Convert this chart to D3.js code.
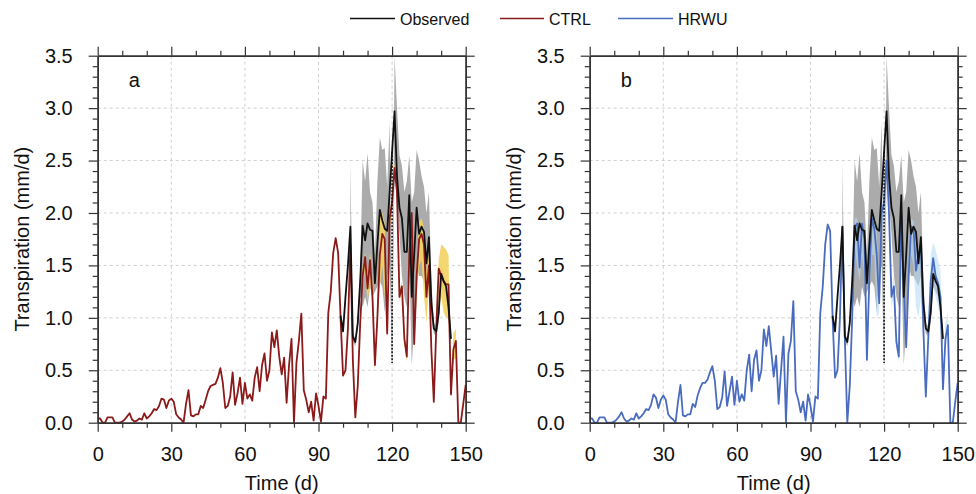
<!DOCTYPE html>
<html>
<head>
<meta charset="utf-8">
<script src="https://cdn.jsdelivr.net/npm/d3@7"></script>
<style>
  body { margin: 0; background: #fff; }
  svg { display: block; font-family: "Liberation Sans", Arial, Helvetica, sans-serif; }
</style>
</head>
<body>
<div id="chart"></div>
<script>
// daily transpiration (mm/d), day 0..150
const ctrl = [
  0.04,0.04,0.0,0.0,0.05,0.05,0.05,0.0,0.0,0.0,
  0.01,0.03,0.06,0.09,0.03,0.01,0.02,0.04,0.03,0.09,
  0.04,0.06,0.09,0.13,0.12,0.16,0.23,0.22,0.14,0.21,
  0.23,0.2,0.08,0.05,0.03,0.0,0.18,0.31,0.07,0.06,
  0.08,0.08,0.16,0.14,0.22,0.3,0.35,0.36,0.37,0.43,
  0.52,0.38,0.14,0.16,0.25,0.48,0.17,0.28,0.43,0.18,
  0.38,0.23,0.27,0.21,0.43,0.53,0.3,0.55,0.66,0.4,
  0.5,0.86,0.72,0.88,0.63,0.46,0.62,0.19,0.55,0.8,
  0.0,0.57,0.78,1.04,0.31,0.22,0.1,0.2,0.02,0.28,
  0.16,0.01,0.25,0.23,1.05,1.25,1.62,1.76,1.62,1.0,
  0.45,0.5,0.9,1.7,0.6,0.05,0.35,0.95,1.4,1.58,
  1.28,1.55,1.2,0.55,1.0,1.6,1.8,1.75,0.85,1.95,
  2.1,2.43,2.2,1.2,1.3,0.8,0.63,1.6,2.0,0.75,
  1.4,1.75,1.8,1.7,1.2,1.5,0.7,0.2,0.9,1.47,
  1.4,1.35,1.32,1.32,0.27,0.7,0.78,0.0,0.0,0.18,0.36
]
const hrwu = [
  0.04,0.04,0.0,0.0,0.05,0.05,0.05,0.0,0.0,0.0,
  0.01,0.03,0.06,0.1,0.04,0.01,0.02,0.04,0.03,0.09,
  0.04,0.06,0.09,0.13,0.12,0.17,0.27,0.24,0.14,0.22,
  0.26,0.22,0.08,0.05,0.03,0.0,0.2,0.36,0.07,0.06,
  0.08,0.08,0.18,0.15,0.26,0.33,0.38,0.38,0.41,0.48,
  0.54,0.4,0.13,0.15,0.24,0.49,0.16,0.3,0.44,0.17,
  0.4,0.2,0.27,0.21,0.5,0.65,0.3,0.6,0.69,0.4,
  0.5,0.89,0.73,0.92,0.68,0.44,0.64,0.18,0.5,0.82,
  0.0,0.66,0.78,1.16,0.3,0.22,0.1,0.2,0.02,0.27,
  0.16,0.01,0.25,0.23,1.05,1.3,1.7,1.89,1.83,1.0,
  0.43,0.5,1.0,1.87,0.8,0.0,0.35,1.0,1.87,1.9,
  1.48,1.9,1.75,0.6,1.4,1.95,1.85,1.6,1.14,2.0,
  2.1,2.5,2.0,1.2,1.3,0.77,0.63,2.0,1.3,0.72,
  1.4,1.87,1.85,1.45,1.6,1.7,0.9,0.25,0.8,1.35,
  1.57,1.4,1.33,1.2,0.32,0.8,0.93,0.0,0.0,0.2,0.38
]

// observed mean, day 99..144 (day 120 is the odd low reading, drawn as a dotted drop)
const obsStart = 99
const obsOddDay = 120
const observed = [
  1.02,0.87,1.2,1.5,1.87,0.82,0.77,0.95,1.35,1.88,
  1.74,1.9,1.84,1.83,1.33,1.7,2.03,1.93,1.85,1.83,
  2.2,0.57,2.97,2.35,2.05,1.95,1.63,1.63,2.17,1.2,
  1.6,2.05,1.8,1.87,1.82,1.52,1.77,1.15,0.9,0.87,
  1.05,1.42,1.35,1.3,1.1,0.8
]

// observed spread, day 103..144
const obsBandStart = 103
const obsLo = [
  1.5,0.78,0.73,0.9,1.2,1.1,1.2,1.1,1.3,1.2,
  1.25,1.3,1.35,1.3,1.05,1.4,1.5,0.55,2.4,2.1,
  1.8,1.4,1.2,1.1,1.6,0.55,0.9,1.5,1.4,1.4,
  1.35,1.3,1.4,1.0,0.85,0.83,0.95,1.3,1.25,1.2,
  1.0,0.75
]
const obsHi = [
  2.5,0.86,0.8,1.0,1.45,2.5,2.3,2.57,2.2,2.1,
  1.6,2.3,2.72,2.6,2.62,2.25,2.87,0.6,3.5,3.0,
  2.55,2.45,2.2,2.3,2.55,2.1,2.2,2.6,2.5,2.35,
  2.25,2.0,2.2,1.35,0.95,0.92,1.15,1.5,1.42,1.35,
  1.15,0.85
]

// CTRL spread, day 108..146
const ctrlBandStart = 108
const ctrlLo = [
  1.3,1.45,1.15,1.35,1.1,0.5,0.95,1.3,1.5,1.2,
  0.8,1.85,2.05,2.38,2.15,1.15,1.25,0.75,0.58,1.55,
  1.9,0.7,1.2,1.5,1.55,1.2,0.95,1.3,0.65,0.17,
  0.85,1.1,1.2,1.05,1.0,1.0,0.25,0.6,0.62
]
const ctrlHi = [
  1.5,1.62,1.4,1.62,1.35,0.62,1.1,1.95,2.0,1.9,
  0.9,2.0,2.15,2.48,2.25,1.25,1.35,0.85,0.68,1.65,
  2.05,0.8,1.5,1.92,1.95,1.85,1.45,1.6,0.75,0.23,
  0.95,1.55,1.7,1.68,1.65,1.6,0.3,0.85,0.9
]

// HRWU spread, day 103..146
const hrwuBandStart = 103
const hrwuLo = [
  1.7,0.75,0.0,0.3,0.95,1.7,1.5,1.35,1.6,1.4,
  0.55,1.2,1.6,1.6,1.0,1.05,1.85,1.95,2.4,1.8,
  1.1,1.2,0.7,0.58,1.85,1.0,0.68,1.2,1.6,1.5,
  1.1,1.0,1.2,0.75,0.22,0.75,1.2,1.3,1.2,1.1,
  1.0,0.3,0.7,0.85
]
const hrwuHi = [
  1.95,0.85,0.05,0.4,1.05,1.95,1.95,1.8,1.95,1.8,
  0.65,1.5,2.0,1.95,1.8,1.3,2.05,2.2,2.55,2.05,
  1.3,1.4,0.85,0.7,2.05,1.5,0.8,1.7,1.95,1.92,
  1.7,1.65,1.75,0.95,0.3,0.9,1.6,1.72,1.65,1.55,
  1.45,0.4,0.95,1.05
]

const xTicks = [0, 30, 60, 90, 120, 150]
const yTicks = [0, 0.5, 1.0, 1.5, 2.0, 2.5, 3.0, 3.5]
const legendItems = [
  {name: 'Observed', color: '#111111'},
  {name: 'CTRL', color: '#8b1a1a'},
  {name: 'HRWU', color: '#4a6cbf'}
]

const W = 976, H = 494
const plotW = 368, plotH = 367, plotTop = 55.7

const svg = d3.select('#chart').append('svg')
  .attr('width', W)
  .attr('height', H)

// legend
const legendPos = [{x: 350, w: 45}, {x: 500, w: 44}, {x: 618, w: 55}]
legendItems.forEach(function(item, i) {
  const p = legendPos[i]
  svg.append('line')
    .attr('x1', p.x).attr('x2', p.x + p.w)
    .attr('y1', 18.5).attr('y2', 18.5)
    .attr('stroke', item.color)
    .attr('stroke-width', 1.5)
  svg.append('text')
    .attr('x', p.x + p.w + 5)
    .attr('y', 24.5)
    .attr('font-size', 16)
    .attr('fill', '#111')
    .text(item.name)
})

function toPoints(values, start) {
  return values.map(function(v, i) { return {day: start + i, v: v} })
}
function toBand(lo, hi, start) {
  return lo.map(function(v, i) { return {day: start + i, lo: v, hi: hi[i]} })
}

function drawPanel(left, label, model, modelColor, band, bandColor, bandOpacity) {
  const x = d3.scaleLinear().domain([0, 150]).range([0, plotW])
  const y = d3.scaleLinear().domain([0, 3.5]).range([plotH, 0])

  const g = svg.append('g').attr('transform', 'translate(' + left + ',' + plotTop + ')')

  // grid
  g.append('g').selectAll('line')
    .data(xTicks.slice(1, -1))
    .enter().append('line')
    .attr('x1', d => x(d)).attr('x2', d => x(d))
    .attr('y1', 0).attr('y2', plotH)
    .attr('stroke', '#cfcfcf').attr('stroke-width', 1)
    .attr('stroke-dasharray', '3,3')
  g.append('g').selectAll('line')
    .data(yTicks.slice(1, -1))
    .enter().append('line')
    .attr('x1', 0).attr('x2', plotW)
    .attr('y1', d => y(d)).attr('y2', d => y(d))
    .attr('stroke', '#cfcfcf').attr('stroke-width', 1)
    .attr('stroke-dasharray', '3,3')

  const area = d3.area()
    .x(d => x(d.day))
    .y0(d => y(d.lo))
    .y1(d => y(d.hi))

  // observed spread
  g.append('path')
    .datum(toBand(obsLo, obsHi, obsBandStart))
    .attr('d', area)
    .attr('fill', '#ababab')

  // model spread
  g.append('path')
    .datum(band)
    .attr('d', area)
    .attr('fill', bandColor)
    .attr('fill-opacity', bandOpacity)

  const line = d3.line()
    .x(d => x(d.day))
    .y(d => y(d.v))

  g.append('path')
    .datum(toPoints(model, 0))
    .attr('d', line)
    .attr('fill', 'none')
    .attr('stroke', modelColor)
    .attr('stroke-width', 1.8)
    .attr('stroke-linejoin', 'round')

  // observed: solid line over the regular days, the day-120 reading as a dotted drop
  const obsPts = toPoints(observed, obsStart)
  const odd = obsPts.find(d => d.day === obsOddDay)
  const prev = obsPts.find(d => d.day === obsOddDay - 1)
  const next = obsPts.find(d => d.day === obsOddDay + 1)
  g.append('line')
    .attr('x1', x(odd.day)).attr('x2', x(odd.day))
    .attr('y1', y((prev.v + next.v) / 2)).attr('y2', y(odd.v))
    .attr('stroke', '#111')
    .attr('stroke-width', 1.6)
    .attr('stroke-dasharray', '2,1.5')
  g.append('path')
    .datum(obsPts.filter(d => d.day !== obsOddDay))
    .attr('d', line)
    .attr('fill', 'none')
    .attr('stroke', '#111')
    .attr('stroke-width', 1.8)
    .attr('stroke-linejoin', 'round')

  // axes, ticks outward on all four sides
  const fmt = d3.format('.1f')
  const minorX = d3.range(0, 151, 10).filter(d => xTicks.indexOf(d) === -1)
  const minorY = d3.range(0, 36).map(d => d / 10).filter(d => Math.round(d * 10) % 5 !== 0)

  const bottom = g.append('g').attr('transform', 'translate(0,' + plotH + ')')
    .call(d3.axisBottom(x).tickValues(xTicks).tickSize(9).tickSizeOuter(0).tickPadding(15).tickFormat(d3.format('d')))
  g.append('g')
    .call(d3.axisTop(x).tickValues(xTicks).tickSize(9).tickSizeOuter(0).tickFormat(''))
  const leftAx = g.append('g')
    .call(d3.axisLeft(y).tickValues(yTicks).tickSize(9).tickSizeOuter(0).tickPadding(16).tickFormat(fmt))
  g.append('g').attr('transform', 'translate(' + plotW + ',0)')
    .call(d3.axisRight(y).tickValues(yTicks).tickSize(9).tickSizeOuter(0).tickFormat(''))

  g.append('g').attr('transform', 'translate(0,' + plotH + ')')
    .call(d3.axisBottom(x).tickValues(minorX).tickSize(5).tickSizeOuter(0).tickFormat(''))
  g.append('g')
    .call(d3.axisTop(x).tickValues(minorX).tickSize(5).tickSizeOuter(0).tickFormat(''))
  g.append('g')
    .call(d3.axisLeft(y).tickValues(minorY).tickSize(5).tickSizeOuter(0).tickFormat(''))
  g.append('g').attr('transform', 'translate(' + plotW + ',0)')
    .call(d3.axisRight(y).tickValues(minorY).tickSize(5).tickSizeOuter(0).tickFormat(''))

  g.selectAll('.domain').attr('stroke', '#333').attr('stroke-width', 1.5)
  g.selectAll('.tick line').attr('stroke', '#333').attr('stroke-width', 1.2)
  bottom.selectAll('text').attr('font-size', 20).attr('fill', '#111')
    .attr('font-family', '"Liberation Sans", Arial, sans-serif')
  leftAx.selectAll('text').attr('font-size', 20).attr('fill', '#111')
    .attr('font-family', '"Liberation Sans", Arial, sans-serif')

  // axis titles
  g.append('text')
    .attr('x', plotW / 2)
    .attr('y', plotH + 67)
    .attr('text-anchor', 'middle')
    .attr('font-size', 20)
    .attr('fill', '#111')
    .text('Time (d)')
  g.append('text')
    .attr('transform', 'translate(-76,' + plotH / 2 + ') rotate(-90)')
    .attr('text-anchor', 'middle')
    .attr('dy', '0.35em')
    .attr('font-size', 20)
    .attr('fill', '#111')
    .text('Transpiration (mm/d)')

  // panel letter
  g.append('text')
    .attr('x', 31)
    .attr('y', 31.5)
    .attr('font-size', 20)
    .attr('fill', '#111')
    .text(label)
}

drawPanel(97.7, 'a', ctrl, '#8b1a1a', toBand(ctrlLo, ctrlHi, ctrlBandStart), '#f3d360', 0.9)
drawPanel(589.7, 'b', hrwu, '#4a6cbf', toBand(hrwuLo, hrwuHi, hrwuBandStart), '#b7dcf3', 0.6)
</script>
</body>
</html>
